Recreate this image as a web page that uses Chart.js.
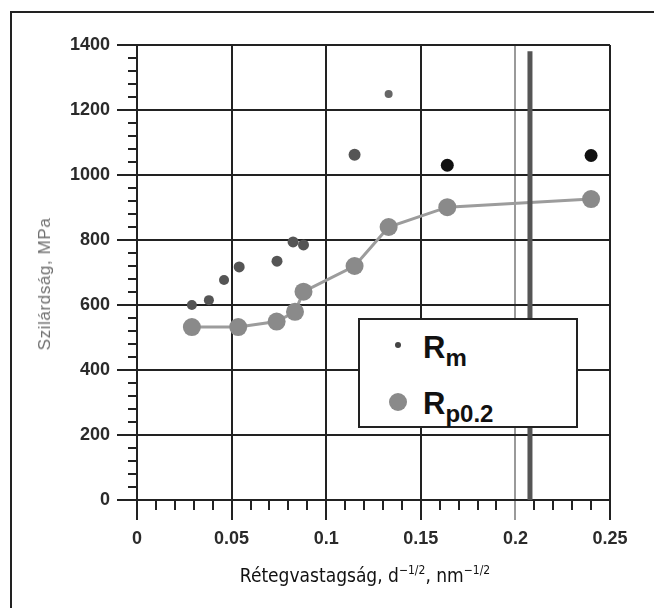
<!DOCTYPE html>
<html>
<head>
<meta charset="utf-8">
<script src="https://cdn.jsdelivr.net/npm/chart.js@4.4.1/dist/chart.umd.min.js"></script>
<style>
  html, body { margin: 0; padding: 0; background: #fff; }
  #wrap { position: relative; width: 654px; height: 608px; overflow: hidden; }
  #frame { position: absolute; left: 10px; top: 11px; width: 660px; height: 620px; border: 2px solid #222; box-sizing: border-box; }
  #box { position: absolute; left: 0; top: 0; width: 654px; height: 608px; }
  #ytitle { position: absolute; left: 45px; top: 284px; transform: translate(-50%, -50%) rotate(-90deg);
            font: 17px "Liberation Sans", Arial, sans-serif; letter-spacing: 0.6px; color: #707070; white-space: nowrap; }
  #xtitle { position: absolute; left: 365px; top: 575px; transform: translate(-50%, -50%);
            font: 19px "DejaVu Sans Condensed", "DejaVu Sans", sans-serif; color: #111; white-space: nowrap; }
  #xtitle sup { font-size: 12px; vertical-align: 8px; line-height: 0; }
  #legend { position: absolute; left: 358px; top: 318px; width: 220px; height: 110px; box-sizing: border-box;
            border: 2px solid #222; background: #fff; font-family: "Liberation Sans", Arial, sans-serif; font-weight: bold; color: #111; }
  .dot { position: absolute; border-radius: 50%; }
  .lab { position: absolute; left: 63px; font-size: 31px; line-height: 1; white-space: nowrap; }
  .lab sub { font-size: 24px; vertical-align: -8px; line-height: 0; }
</style>
</head>
<body>
<div id="wrap">
  <div id="frame"></div>
  <div id="box"><canvas id="myChart"></canvas></div>
  <div id="ytitle">Szilárdság, MPa</div>
  <div id="xtitle">Rétegvastagság, d<sup>−1/2</sup>, nm<sup>−1/2</sup></div>
  <div id="legend">
    <div class="dot" style="left:35px;top:22px;width:6px;height:6px;background:#444"></div>
    <div class="lab" style="top:12px">R<sub>m</sub></div>
    <div class="dot" style="left:29px;top:73px;width:18px;height:18px;background:#8a8a8a"></div>
    <div class="lab" style="top:68px">R<sub>p0.2</sub></div>
  </div>
</div>
<script>
// tengelyek
var xTicks = [0, 0.05, 0.1, 0.15, 0.2, 0.25];
var xTickLabels = ['0', '0.05', '0.1', '0.15', '0.2', '0.25'];
var yTicks = [0, 200, 400, 600, 800, 1000, 1200, 1400];
var yTickLabels = ['0', '200', '400', '600', '800', '1000', '1200', '1400'];

// Rm (szakitoszilardsag)
var rmX = [0.029, 0.038, 0.046, 0.054, 0.074, 0.0825, 0.088, 0.115, 0.133, 0.164, 0.240];
var rmY = [600, 615, 677, 717, 735, 794, 785, 1062, 1249, 1030, 1060];
var rmSize = [5, 5, 5, 5.5, 5.5, 5.5, 5.5, 6, 4, 6.5, 6.5];
var rmColor = ['#555', '#555', '#555', '#555', '#555', '#555', '#555', '#555', '#666', '#111', '#111'];

// Rp0.2 (folyashatar)
var rpX = [0.029, 0.0535, 0.0738, 0.0835, 0.088, 0.115, 0.133, 0.164, 0.240];
var rpY = [532, 532, 549, 579, 641, 720, 840, 901, 926];

// a szkennelt kepen levo vastag fuggoleges vonal
var markX = [0.2077, 0.2077];
var markY = [0, 1381];

function pts(xs, ys) {
    return xs.map(function (x, i) { return { x: x, y: ys[i] }; });
}

// kis osztasok
var minorTicks = {
    id: 'minorTicks',
    afterDraw: function (chart) {
        var c = chart.ctx, a = chart.chartArea;
        var xs = chart.scales.x, ys = chart.scales.y;
        c.save();
        c.strokeStyle = '#222';
        c.lineWidth = 2;
        c.beginPath();
        for (var i = 1; i < 25; i++) {
            if (i % 5 == 0) continue;
            var px = Math.round(xs.getPixelForValue(i / 100));
            c.moveTo(px, a.bottom);
            c.lineTo(px, a.bottom + 10);
        }
        for (var j = 1; j < 35; j++) {
            if (j % 5 == 0) continue;
            var py = Math.round(ys.getPixelForValue(j * 40));
            c.moveTo(a.left, py);
            c.lineTo(a.left - 9, py);
        }
        c.stroke();
        c.restore();
    }
};

var ctx = document.getElementById('myChart').getContext('2d');
var myChart = new Chart(ctx, {
    type: 'scatter',
    data: {
        datasets: [{
            label: 'mark',
            type: 'line',
            data: pts(markX, markY),
            borderColor: '#555',
            borderWidth: 5,
            pointRadius: 0
        }, {
            label: 'Rp0.2',
            type: 'line',
            data: pts(rpX, rpY),
            borderColor: '#9c9c9c',
            borderWidth: 3,
            backgroundColor: '#8a8a8a',
            pointBackgroundColor: '#8a8a8a',
            pointBorderWidth: 0,
            pointRadius: 9,
            tension: 0
        }, {
            label: 'Rm',
            data: pts(rmX, rmY),
            pointBackgroundColor: rmColor,
            backgroundColor: rmColor,
            pointBorderWidth: 0,
            pointRadius: rmSize
        }]
    },
    options: {
        responsive: true,
        maintainAspectRatio: false,
        animation: false,
        layout: { padding: { left: 0, top: 45, right: 44, bottom: 48 } },
        plugins: {
            legend: { display: false },
            tooltip: { enabled: false }
        },
        scales: {
            x: {
                type: 'linear',
                min: 0,
                max: 0.25,
                afterBuildTicks: function (s) { s.ticks = xTicks.map(function (v) { return { value: v }; }); },
                afterFit: function (s) { s.height = 60; },
                border: { display: true, color: '#222', width: 2 },
                grid: {
                    color: function (c) { return c.tick && c.tick.value == 0.2 ? '#9a9a9a' : '#222'; },
                    lineWidth: 2,
                    tickLength: 20,
                    tickWidth: 2
                },
                ticks: {
                    callback: function (v, i) { return xTickLabels[i]; },
                    color: '#2a2a2a',
                    padding: 8,
                    maxRotation: 0,
                    font: { family: 'Liberation Sans', size: 18, weight: 'bold' }
                }
            },
            y: {
                type: 'linear',
                min: 0,
                max: 1400,
                afterBuildTicks: function (s) { s.ticks = yTicks.map(function (v) { return { value: v }; }); },
                afterFit: function (s) { s.width = 137; },
                border: { display: true, color: '#222', width: 2 },
                grid: {
                    color: '#222',
                    lineWidth: 2,
                    tickLength: 20,
                    tickWidth: 2
                },
                ticks: {
                    callback: function (v, i) { return yTickLabels[i]; },
                    color: '#2a2a2a',
                    padding: 7,
                    font: { family: 'Liberation Sans', size: 18, weight: 'bold' }
                }
            }
        }
    },
    plugins: [minorTicks]
});
</script>
</body>
</html>
